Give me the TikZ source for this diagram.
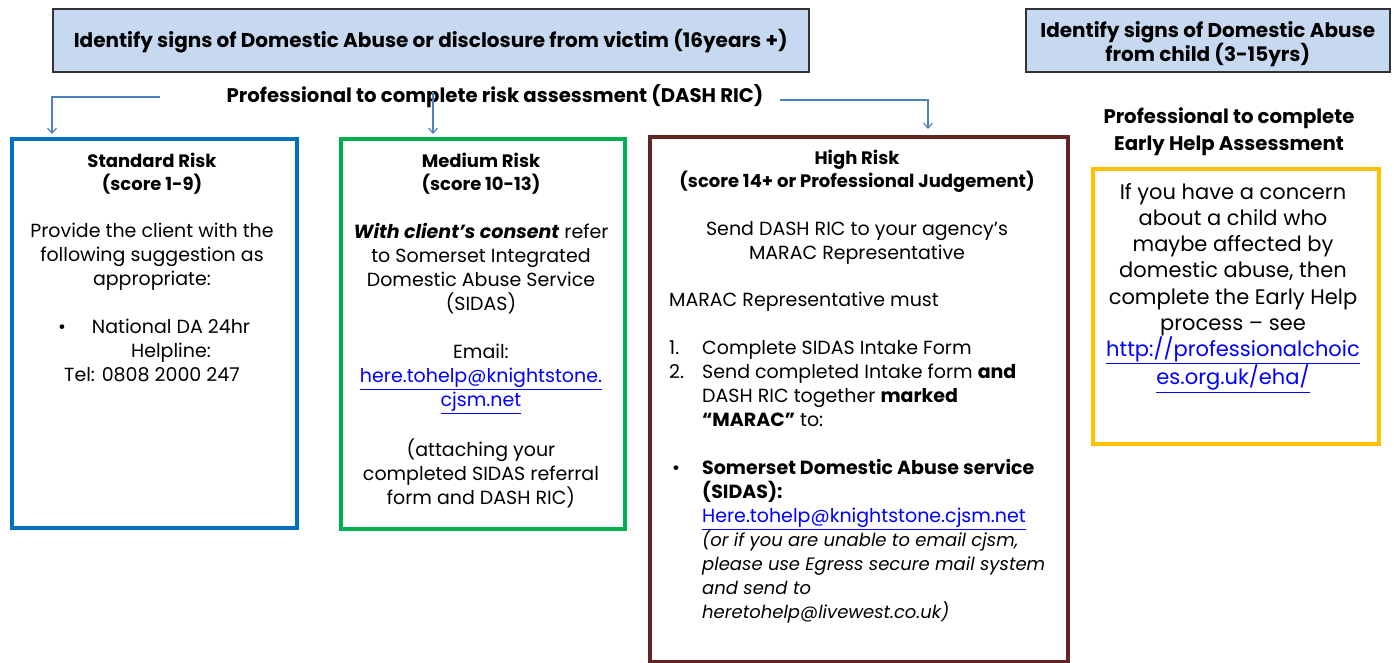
\documentclass[tikz,border=0pt]{standalone}
\usepackage{fontspec}
\setmainfont{Poppins}
\usepackage{tikz}
\usetikzlibrary{arrows.meta,positioning}

\definecolor{titleblue}{HTML}{C6D9F1}
\definecolor{stdblue}{HTML}{0070C0}
\definecolor{medgreen}{HTML}{00B050}
\definecolor{highred}{HTML}{632523}
\definecolor{ehayellow}{HTML}{FFC000}
\definecolor{arrowblue}{HTML}{4F81BD}
\definecolor{linkblue}{HTML}{0000FF}
\newcommand{\weblink}[1]{\textcolor{linkblue}{\underline{#1}}}

\begin{document}
\begin{tikzpicture}[x=1pt, y=-1pt,
    title/.style={rectangle, draw=black!80, line width=1.5pt, fill=titleblue, anchor=north west,
        inner sep=0pt, align=center, font=\bfseries\fontsize{20}{24}\selectfont},
    riskbox/.style={rectangle, line width=4pt, fill=white, anchor=north west, inner sep=0pt},
    heading/.style={align=center, inner sep=0pt, anchor=north, font=\bfseries\fontsize{18}{23}\selectfont},
    body/.style={align=center, inner sep=0pt, anchor=north, font=\fontsize{19}{24}\selectfont},
    flow/.style={draw=arrowblue, line width=1.2pt, -{Straight Barb[length=5pt,width=9pt]}}
    ]
    \useasboundingbox (0,0) rectangle (1394,662);

    % headers
    \node (Title00) [title, minimum width=756pt, minimum height=63pt] at (52,8)
        {\rule{0pt}{19pt}Identify signs of Domestic Abuse or disclosure from victim (16years +)};
    \node (Title01) [title, minimum width=364pt, minimum height=63pt] at (1025,8)
        {\rule{0pt}{23pt}Identify signs of Domestic Abuse\\from child (3-15yrs)};
    \node (Assess00) [heading, anchor=center, font=\bfseries\fontsize{19.7}{24}\selectfont] at (495,96)
        {Professional to complete risk assessment (DASH RIC)};
    \node (Assess01) [heading, anchor=center, font=\bfseries\fontsize{19.7}{27}\selectfont] at (1229,132)
        {Professional to complete\\Early Help Assessment};

    % risk boxes
    \node (Risk01) [riskbox, draw=stdblue, minimum width=285pt, minimum height=389pt] at (10,137) {};
    \node (Risk02) [riskbox, draw=medgreen, minimum width=284pt, minimum height=390pt] at (339,137) {};
    \node (Risk03) [riskbox, draw=highred, minimum width=418pt, minimum height=525pt] at (648,135) {};
    \node (Help01) [riskbox, draw=ehayellow, minimum width=286pt, minimum height=275pt] at (1091,167) {};

    % standard risk
    \node (Head01) [heading] at (152,153) {Standard Risk\\(score 1-9)};
    \node (Body01) [body] at (152,223)
        {Provide the client with the\\following suggestion as\\appropriate:\\[24pt]
         \hspace*{38pt}\llap{\textbullet\hspace{26pt}}National DA 24hr\\
         \hspace*{38pt}Helpline:\\Tel: 0808 2000 247};

    % medium risk
    \node (Head02) [heading] at (481,153) {Medium Risk\\(score 10-13)};
    \node (Body02) [body] at (481,223)
        {\textbf{\itshape With client's consent} refer\\to Somerset Integrated\\Domestic Abuse Service\\(SIDAS)\\[24pt]
         Email:\\\weblink{here.tohelp@knightstone.}\\\weblink{cjsm.net}\\[24pt]
         (attaching your\\completed SIDAS referral\\form and DASH RIC)};

    % high risk
    \node (Head03) [heading] at (857,150) {High Risk\\(score 14+ or Professional Judgement)};
    \node (Body03) [body] at (857,221) {Send DASH RIC to your agency's\\MARAC Representative};
    \node (List03) [body, align=left, anchor=north west] at (669,292)
        {MARAC Representative must\\[24pt]
         \makebox[33pt][l]{1.}Complete SIDAS Intake Form\\
         \makebox[33pt][l]{2.}Send completed Intake form \textbf{and}\\
         \hspace*{33pt}DASH RIC together \textbf{marked}\\
         \hspace*{33pt}\textbf{“MARAC”} to:\\[24pt]
         \makebox[33pt][l]{\hspace{3pt}\textbullet}\textbf{Somerset Domestic Abuse service}\\
         \hspace*{33pt}\textbf{(SIDAS):}\\
         \hspace*{33pt}\weblink{Here.tohelp@knightstone.cjsm.net}\\
         \hspace*{33pt}{\fontsize{18}{24}\selectfont\itshape (or if you are unable to email cjsm,}\\
         \hspace*{33pt}{\fontsize{18}{24}\selectfont\itshape please use Egress secure mail system}\\
         \hspace*{33pt}{\fontsize{18}{24}\selectfont\itshape and send to}\\
         \hspace*{33pt}{\fontsize{18}{24}\selectfont\itshape heretohelp@livewest.co.uk)}};

    % early help
    \node (Body04) [body, font=\fontsize{21}{26.2}\selectfont] at (1233,183)
        {If you have a concern\\about a child who\\maybe affected by\\domestic abuse, then\\complete the Early Help\\
         process – see\\\weblink{http://professionalchoic}\\\weblink{es.org.uk/eha/}};

    % arrows
    \coordinate (Start01) at (160,97);
    \coordinate (End01) at (52,134);
    \coordinate (Start02) at (433,92);
    \coordinate (End02) at (433,134);
    \coordinate (Start03) at (780,100);
    \coordinate (End03) at (928,129);
    \draw [flow] (Start01) -| (End01);
    \draw [flow] (Start02) -- (End02);
    \draw [flow] (Start03) -| (End03);
\end{tikzpicture}
\end{document}
